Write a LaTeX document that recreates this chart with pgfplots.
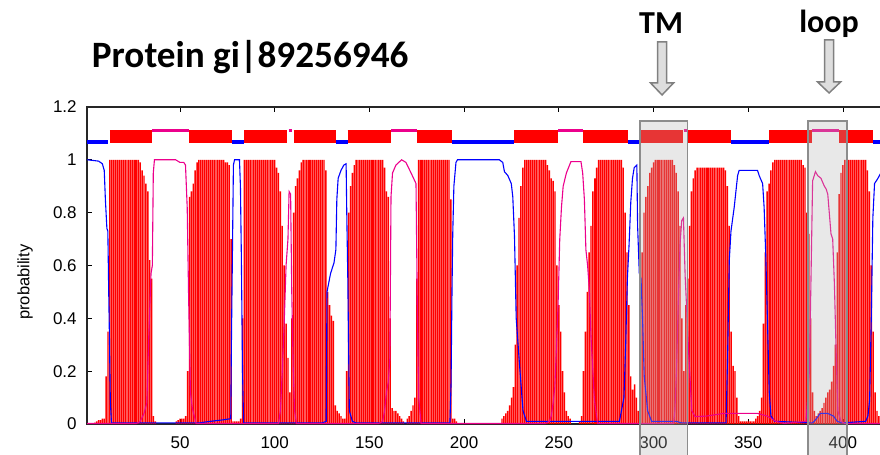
\documentclass[border=0pt]{standalone}
\usepackage{fontspec}
\setmainfont{Liberation Sans}
\newfontfamily\calibri{Carlito}
\usepackage{pgfplots}
\pgfplotsset{compat=1.18}
\begin{document}
\begin{tikzpicture}
\begin{axis}[
  scale only axis, width=803.06pt, height=317.04pt,
  xmin=1, xmax=425, ymin=0, ymax=1.2,
  clip=false,
  xtick={50,100,150,200,250,300,350,400},
  ytick={0,0.2,0.4,0.6,0.8,1,1.2},
  tick align=inside,
  major tick length=5pt,
  tick style={black, line width=0.8pt},
  axis line style={black!85, line width=1.4pt},
  tick label style={font=\fontsize{17}{17}\selectfont},
  /pgf/number format/assume math mode=true,
  xticklabel style={yshift=-9pt},
  yticklabel style={xshift=-7pt},
]
% TM probability (red bars)
\addplot[ybar, bar width=1.4pt, bar shift=0pt, fill=red, draw=none, mark=none] coordinates {
(5,0.005)(6,0.01)(7,0.015)(8,0.015)(9,0.02)(10,0.02)(11,0.18)(12,0.35)(13,1)(14,1)(15,1)(16,1)(17,1)(18,1)(19,1)(20,1)(21,1)(22,1)(23,1)(24,1)(25,1)(26,1)(27,1)(28,1)(29,0.99)(30,0.96)(31,0.94)(32,0.91)(33,0.88)(34,0.62)(35,0.55)(36,0.03)(37,0.01)
(48,0.01)(49,0.015)(50,0.02)(51,0.02)(52,0.02)(53,0.03)(54,0.2)(55,0.86)(56,0.88)(57,0.91)(58,0.96)(59,0.99)(60,1)(61,1)(62,1)(63,1)(64,1)(65,1)(66,1)(67,1)(68,1)(69,1)(70,1)(71,1)(72,1)(73,1)(74,0.99)(75,0.99)(76,0.98)(77,0.7)(78,0.01)(79,0.01)(80,0.01)(81,0.01)
(82,0.02)(83,0.4)(84,1)(85,1)(86,1)(87,1)(88,1)(89,1)(90,1)(91,1)(92,1)(93,1)(94,1)(95,1)(96,1)(97,1)(98,1)(99,1)(100,1)(101,0.97)(102,0.95)(103,0.88)(104,0.75)(105,0.6)(106,0.38)(107,0.25)(108,0.12)(109,0.4)(110,0.8)(111,0.9)(112,0.93)(113,0.96)(114,0.99)(115,1)(116,1)(117,1)(118,1)(119,1)(120,1)(121,1)(122,1)(123,1)(124,1)(125,1)(126,1)(127,0.96)(128,0.5)(129,0.45)(130,0.41)(131,0.39)(132,0.07)(133,0.05)(134,0.04)(135,0.03)(136,0.02)(137,0.02)
(138,0.2)(139,0.8)(140,0.9)(141,0.95)(142,0.98)(143,1)(144,1)(145,1)(146,1)(147,1)(148,1)(149,1)(150,1)(151,1)(152,1)(153,1)(154,1)(155,1)(156,1)(157,1)(158,0.97)(159,0.88)(160,0.86)(161,0.4)(162,0.06)(163,0.05)(164,0.05)(165,0.04)(166,0.03)(167,0.02)(168,0.01)
(170,0.02)(171,0.03)(172,0.05)(173,0.07)(174,0.1)(175,0.55)(176,1)(177,1)(178,1)(179,1)(180,1)(181,1)(182,1)(183,1)(184,1)(185,1)(186,1)(187,1)(188,1)(189,1)(190,1)(191,1)(192,1)(193,0.85)(194,0.02)(195,0.02)(196,0.01)
(220,0.02)(221,0.03)(222,0.04)(223,0.05)(224,0.07)(225,0.1)(226,0.14)(227,0.3)(228,0.6)(229,0.78)(230,0.9)(231,0.97)(232,1)(233,1)(234,1)(235,1)(236,1)(237,1)(238,1)(239,1)(240,1)(241,1)(242,1)(243,1)(244,0.98)(245,0.96)(246,0.93)(247,0.92)(248,0.88)(249,0.6)(250,0.45)(251,0.35)(252,0.2)(253,0.12)(254,0.05)(255,0.03)(256,0.02)
(261,0.01)(262,0.03)(263,0.2)(264,0.35)(265,0.5)(266,0.65)(267,0.75)(268,0.88)(269,0.93)(270,0.97)(271,1)(272,1)(273,1)(274,1)(275,1)(276,1)(277,1)(278,1)(279,1)(280,1)(281,1)(282,1)(283,1)(284,0.97)(285,0.8)(286,0.65)(287,0.45)(288,0.18)(289,0.13)(290,0.15)(291,0.1)(292,0.05)
(293,0.45)(294,0.65)(295,0.8)(296,0.86)(297,0.9)(298,0.95)(299,0.97)(300,0.99)(301,1)(302,1)(303,1)(304,1)(305,1)(306,1)(307,1)(308,1)(309,1)(310,1)(311,0.98)(312,0.95)(313,0.88)(314,0.75)(315,0.4)(316,0.2)
(317,0.45)(318,0.55)(319,0.75)(320,0.88)(321,0.93)(322,0.96)(323,0.97)(324,0.97)(325,0.97)(326,0.97)(327,0.97)(328,0.97)(329,0.97)(330,0.97)(331,0.97)(332,0.97)(333,0.97)(334,0.97)(335,0.97)(336,0.97)(337,0.97)(338,0.96)(339,0.9)(340,0.75)(341,0.35)(342,0.22)(343,0.2)(344,0.1)(345,0.03)(346,0.01)(347,0.01)(348,0.01)(349,0.01)(350,0.01)(351,0.01)(352,0.01)(353,0.01)(354,0.02)(355,0.03)(356,0.05)(357,0.1)
(358,0.38)(359,0.65)(360,0.88)(361,0.91)(362,0.96)(363,0.99)(364,1)(365,1)(366,1)(367,1)(368,1)(369,1)(370,1)(371,1)(372,1)(373,1)(374,1)(375,1)(376,1)(377,1)(378,1)(379,0.98)(380,0.97)(381,0.8)(382,0.72)(383,0.4)(384,0.12)(385,0.05)(386,0.03)(387,0.04)(388,0.05)(389,0.06)(390,0.08)(391,0.1)(392,0.12)(393,0.13)(394,0.16)(395,0.22)(396,0.3)
(397,0.65)(398,0.87)(399,0.95)(400,0.98)(401,1)(402,1)(403,1)(404,1)(405,1)(406,1)(407,1)(408,1)(409,1)(410,1)(411,1)(412,1)(413,0.96)(414,0.88)(415,0.6)(416,0.35)(417,0.12)(418,0.05)(419,0.03)
};
% inside probability (blue)
\addplot[blue, line width=1.1pt, mark=none] coordinates {
(1,1)(7,0.995)(9,0.985)(10,0.96)(10.6,0.85)(11.4,0.74)(11.9,0.73)(12.3,0.53)(12.8,0.3)(13.2,0.09)(13.8,0.004)(60,0.004)(66,0.01)(72,0.015)(76.8,0.02)(77.1,0.28)(78.2,0.98)(78.8,1)(81.4,1)(81.9,0.9)(82.4,0.63)(83,0.2)(83.6,0.004)(125,0.004)(127.2,0.01)(127.6,0.5)(129.5,0.57)(131.3,0.61)(132.3,0.66)(132.8,0.85)(133.5,0.93)(135,0.96)(136.5,0.98)(137.7,0.985)(138.1,0.77)(138.6,0.55)(139.4,0.05)(141,0.01)(143,0.004)(192.5,0.004)(193.1,0.15)(193.6,0.5)(194,0.72)(194.6,0.9)(195.7,0.99)(196.5,1)(218.6,1)(220.4,0.99)(221.3,0.955)(223.1,0.94)(224.9,0.91)(225.7,0.86)(226.6,0.71)(227.5,0.4)(229.3,0.22)(231.1,0.05)(232.9,0.01)(270,0.01)(282,0.01)(284.4,0.1)(285.3,0.3)(286.2,0.55)(287.1,0.68)(288,0.84)(288.9,0.93)(289.8,0.97)(291.2,0.98)(291.6,0.75)(292.5,0.57)(293.4,0.55)(294.2,0.4)(295.1,0.18)(296.9,0.05)(299,0.01)(312,0.01)(315,0.004)(338.3,0.004)(339.1,0.25)(340,0.62)(340.9,0.73)(342.6,0.82)(344.4,0.94)(345.2,0.96)(354.9,0.96)(355.8,0.94)(357.6,0.91)(358.4,0.82)(359.3,0.63)(360.2,0.38)(361.1,0.12)(362,0.03)(364,0.01)(384,0.004)(386,0.02)(388,0.04)(392,0.04)(395,0.03)(397,0.01)(399.5,0.004)(412,0.01)(413.2,0.03)(414.1,0.09)(415,0.41)(415.8,0.78)(416.7,0.91)(418.5,0.93)(420,0.95)
};
% outside probability (magenta)
\addplot[magenta, line width=1.1pt, mark=none] coordinates {
(1,0.002)(27,0.002)(29,0.01)(31,0.04)(32.5,0.08)(33.5,0.33)(34.7,0.57)(35.4,0.6)(35.9,0.95)(36.5,1)(47.7,1)(50,0.99)(52,0.99)(52.9,0.98)(53.8,0.82)(54.5,0.5)(55.5,0.12)(56.5,0.06)(58.5,0.002)(102,0.002)(103,0.05)(104,0.2)(105,0.38)(106,0.6)(107,0.7)(107.6,0.88)(108.4,0.87)(109,0.5)(109.8,0.2)(110.5,0.05)(111.5,0.002)(155,0.002)(157,0.01)(158,0.05)(159,0.12)(160,0.16)(160.8,0.25)(161.4,0.86)(162.2,0.95)(164,0.98)(167,1)(169.3,0.99)(172,0.95)(174.6,0.91)(175.3,0.44)(176,0.1)(177.3,0.002)(243,0.002)(245,0.01)(246,0.03)(247,0.08)(247.9,0.14)(248.8,0.3)(249.6,0.45)(250.5,0.7)(251.4,0.82)(252.3,0.9)(254,0.95)(256.4,0.993)(261.7,0.993)(262.6,0.95)(263.5,0.85)(264.3,0.66)(265.2,0.6)(266.1,0.51)(267,0.33)(268.8,0.09)(270.5,0.002)(310.5,0.002)(311.3,0.05)(312.2,0.22)(313.1,0.47)(314,0.68)(314.9,0.77)(315.8,0.78)(316.7,0.56)(318.5,0.28)(320.2,0.05)(322,0.028)(328,0.03)(337,0.04)(355,0.04)(360,0.03)(364.6,0.01)(369,0.002)(380.5,0.01)(382.3,0.2)(383.1,0.53)(384,0.92)(385.5,0.955)(386.7,0.94)(388.4,0.93)(390.2,0.9)(391.1,0.89)(392,0.87)(393.7,0.72)(394.6,0.7)(395.5,0.53)(396.4,0.28)(397.3,0.05)(399,0.01)(401,0.002)(420,0.002)
};
% predicted topology bar
\addplot[blue, line width=3.5pt, mark=none, unbounded coords=jump] coordinates {
(1,1.067)(12.2,1.067)(12.2,nan)(77.6,1.067)(84,1.067)(84,nan)(132.4,1.067)(138.5,1.067)(138.5,nan)(193.5,1.067)(226.5,1.067)(226.5,nan)(286.4,1.067)(293,1.067)(293,nan)(341,1.067)(361,1.067)(361,nan)(416,1.067)(420,1.067)
};
\addplot[magenta, line width=3pt, mark=none, unbounded coords=jump] coordinates {
(35.4,1.11)(55,1.11)(55,nan)(107.4,1.11)(109.2,1.11)(109.2,nan)(161.4,1.11)(175,1.11)(175,nan)(249.7,1.11)(263,1.11)(263,nan)(316,1.11)(317.6,1.11)(317.6,nan)(383.8,1.11)(398,1.11)
};
\addplot[red, line width=13pt, mark=none, unbounded coords=jump] coordinates {
(13,1.0875)(35.4,1.0875)(35.4,nan)(55,1.0875)(77.6,1.0875)(77.6,nan)(84,1.0875)(106.6,1.0875)(106.6,nan)(110,1.0875)(132.4,1.0875)(132.4,nan)(138.5,1.0875)(161.4,1.0875)(161.4,nan)(175,1.0875)(193.5,1.0875)(193.5,nan)(226.5,1.0875)(249.7,1.0875)(249.7,nan)(263,1.0875)(286.4,1.0875)(286.4,nan)(293,1.0875)(315.4,1.0875)(315.4,nan)(318.4,1.0875)(341,1.0875)(341,nan)(361,1.0875)(383.8,1.0875)(383.8,nan)(398,1.0875)(416,1.0875)
};
% highlight boxes
\draw[black!45, line width=1.8pt, fill=black!30, fill opacity=0.3] (axis cs:292.9,1.147) rectangle (axis cs:317.9,-0.3);
\draw[black!45, line width=1.8pt, fill=black!30, fill opacity=0.3] (axis cs:381.7,1.147) rectangle (axis cs:402,-0.3);
% arrows
\coordinate (A1) at (axis cs:304.5,1.2);
\coordinate (A2) at (axis cs:392.7,1.2);
\draw[black!50, line width=1.5pt, fill=black!13, line join=miter]
 ([shift={(-4.5pt,65pt)}]A1) -- ([shift={(4.5pt,65pt)}]A1) -- ([shift={(4.5pt,24pt)}]A1) -- ([shift={(11.5pt,24pt)}]A1) -- ([shift={(0pt,12pt)}]A1) -- ([shift={(-11.5pt,24pt)}]A1) -- ([shift={(-4.5pt,24pt)}]A1) -- cycle;
\draw[black!50, line width=1.5pt, fill=black!13, line join=miter]
 ([shift={(-4.5pt,67pt)}]A2) -- ([shift={(4.5pt,67pt)}]A2) -- ([shift={(4.5pt,25pt)}]A2) -- ([shift={(11.5pt,25pt)}]A2) -- ([shift={(0pt,14pt)}]A2) -- ([shift={(-11.5pt,25pt)}]A2) -- ([shift={(-4.5pt,25pt)}]A2) -- cycle;
% texts
\node[anchor=base west, inner sep=0pt, font=\calibri\bfseries\fontsize{37.2}{37.2}\selectfont] at (axis cs:3.4,1.3486) {Protein gi|89256946};
\node[anchor=base, inner sep=0pt, font=\calibri\bfseries\fontsize{32}{32}\selectfont] at (axis cs:304,1.478) {TM};
\node[anchor=base, inner sep=0pt, font=\calibri\bfseries\fontsize{32}{32}\selectfont] at (axis cs:392.7,1.48) {loop};
\node[rotate=90, inner sep=0pt, font=\fontsize{16.5}{16.5}\selectfont] at (axis cs:-31.8,0.537) {probability};
\coordinate (BL) at (axis cs:-45.04,-0.1173);
\coordinate (TR) at (axis cs:419.58,1.6048);
\end{axis}
\pgfresetboundingbox
\path[use as bounding box] (BL) rectangle (TR);
\end{tikzpicture}
\end{document}
